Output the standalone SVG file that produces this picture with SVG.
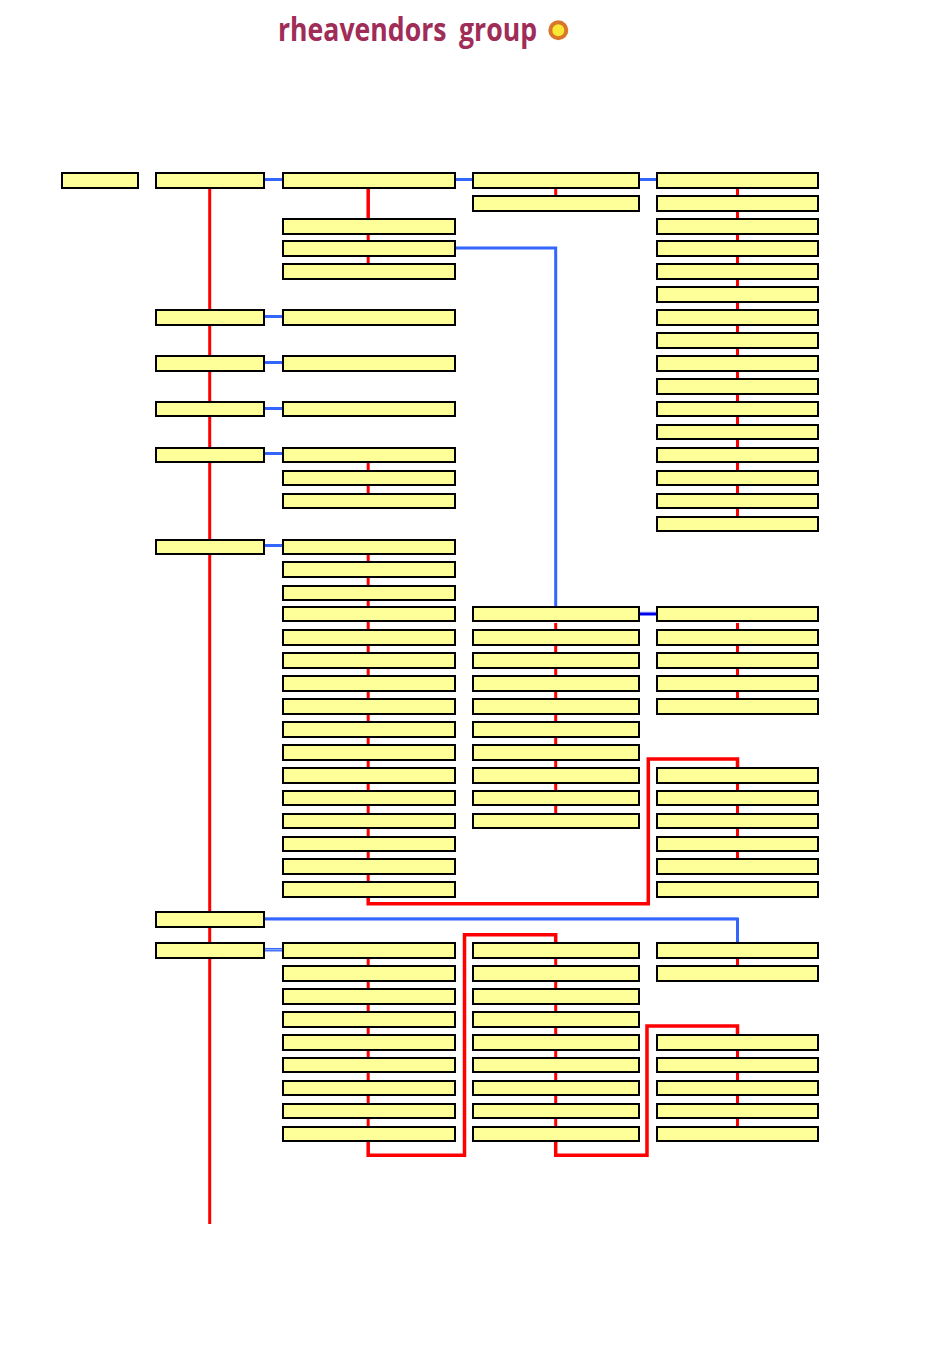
<svg xmlns="http://www.w3.org/2000/svg" width="950" height="1369" viewBox="0 0 950 1369">
<style>
.b{fill:#ffff99;stroke:#000;stroke-width:2;shape-rendering:crispEdges;filter:drop-shadow(0.5px 0.8px 0 #bdbda5)}
.r{fill:none;stroke:#ff0000;stroke-width:3}
.k{fill:none;stroke:#ff0000;stroke-width:3.5}
.u{fill:none;stroke:#3366ff;stroke-width:3}
.p{fill:none;stroke:#b8c8ff;stroke-width:1}
.d{fill:none;stroke:#0000ee;stroke-width:3}
.t{font-family:"Open Sans","Liberation Sans",sans-serif;font-weight:700;font-size:33px;fill:#a02c58;word-spacing:7px}
</style>
<rect width="950" height="1369" fill="#fff"/>
<g id="logo">
<text class="t" x="278" y="41" textLength="259" lengthAdjust="spacingAndGlyphs">rheavendors group</text>
<circle cx="558.300" cy="30.300" r="8" fill="#fbe834" stroke="#d8772a" stroke-width="4"/>
</g>
<g id="connectors">
<path class="r" d="M209.700 188V1224"/>
<path class="k" d="M368.200 188V219"/>
<path class="r" d="M368.200 235V241M368.200 257V264M368.200 463V470M368.200 486V493M368.200 555V882"/>
<path class="r" d="M555.700 189V196M555.700 623V813M737.500 189V516M737.500 623V699M737.500 784V859M368.200 959V1126M555.700 959V1126M737.500 959V966M737.500 1051V1126"/>
<path class="k" d="M368.200 898V903.800H648.300V759H737.500V768"/>
<path class="k" d="M368.200 1142V1155.300H464.500V934.700H555.700V943"/>
<path class="k" d="M555.700 1142V1155.300H647V1026H737.500V1035"/>
<path class="p" d="M265 917.500H737M640 612H657"/>
<path class="u" d="M265 179.500H282M456 179.500H473M640 179.500H657M265 316.500H282M265 362.500H282M265 408.500H282M265 453.500H282M265 545.500H282M456 248H555.700V607M265 919H737.500V943"/>
<path class="u" d="M265 949.700H282" style="stroke-width:3.500"/>
<path class="p" d="M265 949.700H282" style="stroke-width:0.800"/>
<path class="d" d="M640 614H657"/>
</g>
<g id="col0"><rect id="n0" class="b" x="62.300" y="173.300" width="75.700" height="14.300"/></g>
<g id="col1">
<rect id="a1" class="b" x="156.300" y="173.300" width="107.700" height="14.300"/>
<rect id="a2" class="b" x="156.300" y="310.300" width="107.700" height="14.300"/>
<rect id="a3" class="b" x="156.300" y="356.300" width="107.700" height="14.300"/>
<rect id="a4" class="b" x="156.300" y="402" width="107.700" height="14.300"/>
<rect id="a5" class="b" x="156.300" y="447.700" width="107.700" height="14.300"/>
<rect id="a6" class="b" x="156.300" y="539.700" width="107.700" height="14.300"/>
<rect id="a7" class="b" x="156.300" y="912.300" width="107.700" height="14.300"/>
<rect id="a8" class="b" x="156.300" y="943.300" width="107.700" height="14.300"/>
</g>
<g id="col2">
<rect id="b1" class="b" x="282.700" y="173.300" width="172.300" height="14.300"/>
<rect id="b2" class="b" x="282.700" y="219.300" width="172.300" height="14.300"/>
<rect id="b3" class="b" x="282.700" y="241.300" width="172.300" height="14.300"/>
<rect id="b4" class="b" x="282.700" y="264.300" width="172.300" height="14.300"/>
<rect id="b5" class="b" x="282.700" y="310.300" width="172.300" height="14.300"/>
<rect id="b6" class="b" x="282.700" y="356.300" width="172.300" height="14.300"/>
<rect id="b7" class="b" x="282.700" y="402" width="172.300" height="14.300"/>
<rect id="b8" class="b" x="282.700" y="447.700" width="172.300" height="14.300"/>
<rect id="b9" class="b" x="282.700" y="470.700" width="172.300" height="14.300"/>
<rect id="b10" class="b" x="282.700" y="493.700" width="172.300" height="14.300"/>
<rect id="b11" class="b" x="282.700" y="539.700" width="172.300" height="14.300"/>
<rect id="b12" class="b" x="282.700" y="562.300" width="172.300" height="14.300"/>
<rect id="b13" class="b" x="282.700" y="585.700" width="172.300" height="14.300"/>
<rect id="b14" class="b" x="282.700" y="607" width="172.300" height="14.300"/>
<rect id="b15" class="b" x="282.700" y="630.300" width="172.300" height="14.300"/>
<rect id="b16" class="b" x="282.700" y="653.300" width="172.300" height="14.300"/>
<rect id="b17" class="b" x="282.700" y="676.300" width="172.300" height="14.300"/>
<rect id="b18" class="b" x="282.700" y="699.300" width="172.300" height="14.300"/>
<rect id="b19" class="b" x="282.700" y="722.300" width="172.300" height="14.300"/>
<rect id="b20" class="b" x="282.700" y="745.300" width="172.300" height="14.300"/>
<rect id="b21" class="b" x="282.700" y="768.300" width="172.300" height="14.300"/>
<rect id="b22" class="b" x="282.700" y="790.700" width="172.300" height="14.300"/>
<rect id="b23" class="b" x="282.700" y="813.700" width="172.300" height="14.300"/>
<rect id="b24" class="b" x="282.700" y="836.700" width="172.300" height="14.300"/>
<rect id="b25" class="b" x="282.700" y="859.300" width="172.300" height="14.300"/>
<rect id="b26" class="b" x="282.700" y="882.300" width="172.300" height="14.300"/>
<rect id="b27" class="b" x="282.700" y="943.300" width="172.300" height="14.300"/>
<rect id="b28" class="b" x="282.700" y="966.300" width="172.300" height="14.300"/>
<rect id="b29" class="b" x="282.700" y="989.300" width="172.300" height="14.300"/>
<rect id="b30" class="b" x="282.700" y="1012.300" width="172.300" height="14.300"/>
<rect id="b31" class="b" x="282.700" y="1035.300" width="172.300" height="14.300"/>
<rect id="b32" class="b" x="282.700" y="1057.700" width="172.300" height="14.300"/>
<rect id="b33" class="b" x="282.700" y="1080.700" width="172.300" height="14.300"/>
<rect id="b34" class="b" x="282.700" y="1103.700" width="172.300" height="14.300"/>
<rect id="b35" class="b" x="282.700" y="1126.700" width="172.300" height="14.300"/>
</g>
<g id="col3">
<rect id="c1" class="b" x="473.300" y="173.300" width="166" height="14.300"/>
<rect id="c2" class="b" x="473.300" y="196.300" width="166" height="14.300"/>
<rect id="c3" class="b" x="473.300" y="607" width="166" height="14.300"/>
<rect id="c4" class="b" x="473.300" y="630.300" width="166" height="14.300"/>
<rect id="c5" class="b" x="473.300" y="653.300" width="166" height="14.300"/>
<rect id="c6" class="b" x="473.300" y="676.300" width="166" height="14.300"/>
<rect id="c7" class="b" x="473.300" y="699.300" width="166" height="14.300"/>
<rect id="c8" class="b" x="473.300" y="722.300" width="166" height="14.300"/>
<rect id="c9" class="b" x="473.300" y="745.300" width="166" height="14.300"/>
<rect id="c10" class="b" x="473.300" y="768.300" width="166" height="14.300"/>
<rect id="c11" class="b" x="473.300" y="790.700" width="166" height="14.300"/>
<rect id="c12" class="b" x="473.300" y="813.700" width="166" height="14.300"/>
<rect id="c13" class="b" x="473.300" y="943.300" width="166" height="14.300"/>
<rect id="c14" class="b" x="473.300" y="966.300" width="166" height="14.300"/>
<rect id="c15" class="b" x="473.300" y="989.300" width="166" height="14.300"/>
<rect id="c16" class="b" x="473.300" y="1012.300" width="166" height="14.300"/>
<rect id="c17" class="b" x="473.300" y="1035.300" width="166" height="14.300"/>
<rect id="c18" class="b" x="473.300" y="1057.700" width="166" height="14.300"/>
<rect id="c19" class="b" x="473.300" y="1080.700" width="166" height="14.300"/>
<rect id="c20" class="b" x="473.300" y="1103.700" width="166" height="14.300"/>
<rect id="c21" class="b" x="473.300" y="1126.700" width="166" height="14.300"/>
</g>
<g id="col4">
<rect id="d1" class="b" x="657" y="173.300" width="161.300" height="14.300"/>
<rect id="d2" class="b" x="657" y="196.300" width="161.300" height="14.300"/>
<rect id="d3" class="b" x="657" y="219.300" width="161.300" height="14.300"/>
<rect id="d4" class="b" x="657" y="241.300" width="161.300" height="14.300"/>
<rect id="d5" class="b" x="657" y="264.300" width="161.300" height="14.300"/>
<rect id="d6" class="b" x="657" y="287.300" width="161.300" height="14.300"/>
<rect id="d7" class="b" x="657" y="310.300" width="161.300" height="14.300"/>
<rect id="d8" class="b" x="657" y="333.300" width="161.300" height="14.300"/>
<rect id="d9" class="b" x="657" y="356.300" width="161.300" height="14.300"/>
<rect id="d10" class="b" x="657" y="379.300" width="161.300" height="14.300"/>
<rect id="d11" class="b" x="657" y="402" width="161.300" height="14.300"/>
<rect id="d12" class="b" x="657" y="424.700" width="161.300" height="14.300"/>
<rect id="d13" class="b" x="657" y="447.700" width="161.300" height="14.300"/>
<rect id="d14" class="b" x="657" y="470.700" width="161.300" height="14.300"/>
<rect id="d15" class="b" x="657" y="493.700" width="161.300" height="14.300"/>
<rect id="d16" class="b" x="657" y="516.700" width="161.300" height="14.300"/>
<rect id="d17" class="b" x="657" y="607" width="161.300" height="14.300"/>
<rect id="d18" class="b" x="657" y="630.300" width="161.300" height="14.300"/>
<rect id="d19" class="b" x="657" y="653.300" width="161.300" height="14.300"/>
<rect id="d20" class="b" x="657" y="676.300" width="161.300" height="14.300"/>
<rect id="d21" class="b" x="657" y="699.300" width="161.300" height="14.300"/>
<rect id="d22" class="b" x="657" y="768.300" width="161.300" height="14.300"/>
<rect id="d23" class="b" x="657" y="790.700" width="161.300" height="14.300"/>
<rect id="d24" class="b" x="657" y="813.700" width="161.300" height="14.300"/>
<rect id="d25" class="b" x="657" y="836.700" width="161.300" height="14.300"/>
<rect id="d26" class="b" x="657" y="859.300" width="161.300" height="14.300"/>
<rect id="d27" class="b" x="657" y="882.300" width="161.300" height="14.300"/>
<rect id="d28" class="b" x="657" y="943.300" width="161.300" height="14.300"/>
<rect id="d29" class="b" x="657" y="966.300" width="161.300" height="14.300"/>
<rect id="d30" class="b" x="657" y="1035.300" width="161.300" height="14.300"/>
<rect id="d31" class="b" x="657" y="1057.700" width="161.300" height="14.300"/>
<rect id="d32" class="b" x="657" y="1080.700" width="161.300" height="14.300"/>
<rect id="d33" class="b" x="657" y="1103.700" width="161.300" height="14.300"/>
<rect id="d34" class="b" x="657" y="1126.700" width="161.300" height="14.300"/>
</g>
</svg>
